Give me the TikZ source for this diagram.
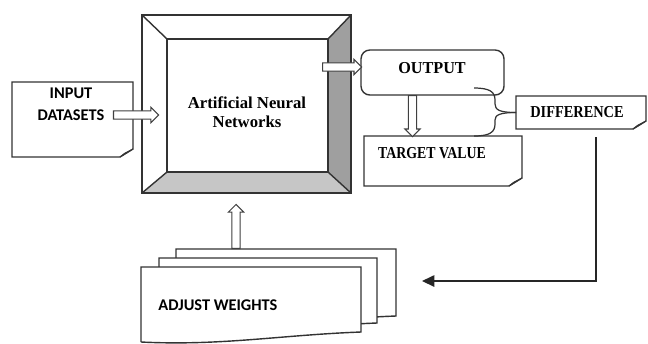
\documentclass[tikz,border=0pt]{standalone}
\usepackage{fontspec}
\setmainfont{Liberation Serif}
\newfontfamily\calfont{Carlito}
\usetikzlibrary{calc,arrows.meta,shapes.arrows}

\tikzset{
  frame/.style={draw=black!80, line width=0.8pt},
  box/.style={draw=none, inner sep=0pt, outer sep=0pt},
  lbl/.style={font=\fontsize{9.5}{10.5}\selectfont\bfseries, align=center, inner sep=0pt},
  calbl/.style={font=\calfont\fontsize{9.3}{12.5}\selectfont\bfseries, align=center, inner sep=0pt},
  hollow/.style={to path={let \p1=($(\tikztotarget)-(\tikztostart)$),
      \n1={atan2(\y1,\x1)}, \n2={veclen(\x1,\y1)} in
      node[single arrow, draw=black!75, fill=white, line width=0.6pt, inner sep=0pt,
        inner ysep=2pt, minimum height=\n2, single arrow head extend=2pt,
        rotate=\n1, anchor=tail] at (\tikztostart) {} (\tikztotarget)}},
  feed/.style={draw=black!85, line width=0.8pt, -{Triangle[length=7pt, width=6.5pt]}},
}

% paper sheet with a curled corner
\newcommand\folddoc[1]{%
  \filldraw[frame, fill=white] (#1.south west) -- (#1.north west) -- (#1.north east)
    -- ($(#1.south east)+(0,-8)$) -- ($(#1.south east)+(-13,0)$) -- cycle;
  \filldraw[frame, fill=gray!40, line width=0.5pt] ($(#1.south east)+(0,-8)$)
    -- ($(#1.south east)+(-8,-4)$) -- ($(#1.south east)+(-13,0)$) -- cycle;
}
% sheet with a wavy lower edge
\newcommand\wavydoc[1]{%
  \filldraw[frame, fill=white] ($(#1.south west)+(0,10)$) -- (#1.north west) -- (#1.north east)
    -- (#1.south east) .. controls ($(#1.south east)+(-80,3)$) and ($(#1.south west)+(80,14)$)
    .. ($(#1.south west)+(0,10)$);
}

\begin{document}
\begin{tikzpicture}[x=0.02cm, y=-0.02cm]
\useasboundingbox (0,0) rectangle (648,343);

% ANN frame
\node[box, minimum width=4.18cm, minimum height=3.56cm] (ann) at (246.5,104) {};
\node[box, minimum width=3.22cm, minimum height=2.66cm] (core) at (247.5,105.5) {};
\fill[gray!45] (ann.south west) -- (ann.south east) -- (core.south east) -- (core.south west) -- cycle;
\fill[gray!75] (ann.north east) -- (ann.south east) -- (core.south east) -- (core.north east) -- cycle;
\draw[frame] (ann.south west) rectangle (ann.north east);
\draw[frame] (core.south west) rectangle (core.north east);
\foreach \c in {north west, north east, south west, south east}
  \draw[frame] (ann.\c) -- (core.\c);
\node[lbl] (annlbl) at (247,112) {Artificial Neural\\Networks};

% input
\node[box, minimum width=2.42cm, minimum height=1.5cm] (in) at (72.5,119.5) {};
\folddoc{in}
\node[calbl] (inlbl) at (71,104) {INPUT\\DATASETS};

% output
\node[box, frame, rounded corners=5pt, minimum width=2.86cm, minimum height=0.9cm] (out) at (432.5,72.5) {};
\node[lbl, xscale=0.97] (outlbl) at (432,68) {OUTPUT};

% target
\node[box, minimum width=3.16cm, minimum height=1cm] (tv) at (443,161) {};
\folddoc{tv}
\node[lbl, xscale=0.83] (tvlbl) at (432,153) {TARGET VALUE};

% difference
\node[box, minimum width=2.6cm, minimum height=0.66cm] (diff) at (581,112.5) {};
\folddoc{diff}
\node[lbl, xscale=0.86] (difflbl) at (577,112) {DIFFERENCE};

% weights stack
\node[box, minimum width=4.4cm, minimum height=1.34cm] (aw3) at (286,282.5) {};
\node[box, minimum width=4.36cm, minimum height=1.3cm] (aw2) at (268,290.5) {};
\node[box, minimum width=4.4cm, minimum height=1.3cm] (aw1) at (251,299.5) {};
\wavydoc{aw3}
\wavydoc{aw2}
\wavydoc{aw1}
\node[calbl, anchor=west] (awlbl) at (158,305) {ADJUST WEIGHTS};

% block arrows
\path ($(in.east)+(-20,-4.5)$) coordinate (i1) ($(in.east)+(25,-4.5)$) coordinate (i2);
\path[hollow] (i1) to (i2);
\path ($(out.west)+(-39,-5.5)$) coordinate (o1) ($(out.west)+(0,-5.5)$) coordinate (o2);
\path[hollow] (o1) to (o2);
\coordinate (o2t) at ($(out.south)+(-20,0)$);
\path[hollow] (o2t) to (o2t |- tv.north);
\coordinate (w2a) at ($(aw3.north)+(-50,0)$);
\coordinate (w2b) at ($(w2a)+(0,-44)$);
\path[hollow] (w2a) to (w2b);

% brace
\coordinate (bt) at (474,88);
\coordinate (bb) at (474,136);
\draw[frame, line width=0.7pt] (bt) .. controls (490,88) and (495,92) .. (495,100) -- (495,104)
  .. controls (495,110) and (500,112.5) .. (diff.west);
\draw[frame, line width=0.7pt] (bb) .. controls (490,136) and (495,132) .. (495,124) -- (495,120)
  .. controls (495,115) and (500,112.5) .. (diff.west);

% feedback
\coordinate (fbtop) at (596,137);
\coordinate (fbend) at (422,281);
\draw[feed] (fbtop) |- (fbend);

\end{tikzpicture}
\end{document}
